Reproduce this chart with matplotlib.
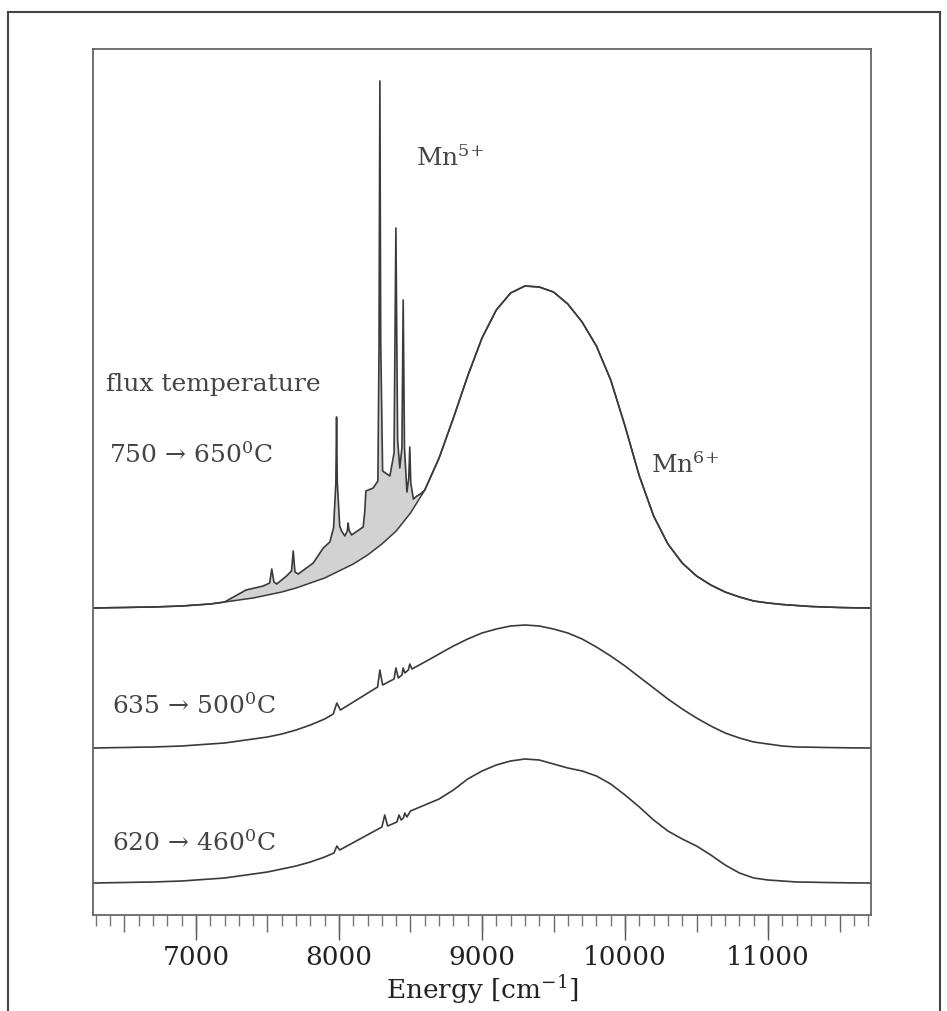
import matplotlib.pyplot as plt
from matplotlib.lines import Line2D

# energy grid (cm^-1) for the smooth Mn6+ bands, read every 100 cm^-1
band_e = [6280, 6300, 6400, 6500, 6600, 6700, 6800, 6900, 7000, 7100, 7200, 7300, 7400, 7500,
          7600, 7700, 7800, 7900, 8000, 8100, 8200, 8300, 8400, 8500, 8600, 8700, 8800,
          8900, 9000, 9100, 9200, 9300, 9400, 9500, 9600, 9700, 9800, 9900, 10000, 10100,
          10200, 10300, 10400, 10500, 10600, 10700, 10800, 10900, 11000, 11100, 11200,
          11300, 11400, 11500, 11600, 11720]

# heights above each trace's own baseline (arbitrary units)
top_band = [0, 0, 0.3, 0.5, 0.8, 1, 1.5, 2, 3, 4, 6, 8, 10, 13,
            16, 20, 25, 30, 37, 44, 53, 64, 77, 95, 118, 150, 190,
            232, 270, 298, 315, 322, 321, 316, 304, 286, 262, 228, 182, 132,
            92, 64, 45, 32, 23, 16, 11, 7, 5, 3.5, 2.5,
            1.5, 1, 0.5, 0.2, 0]
mid_band = [0, 0, 0.3, 0.5, 0.8, 1, 1.5, 2, 3, 4, 5, 7, 9, 11,
            14, 18, 23, 29, 36, 44, 53, 62, 70, 78, 86, 94, 102,
            109, 115, 119, 122, 123, 122, 119, 115, 109, 101, 92, 82, 71,
            60, 49, 39, 30, 22, 15, 10, 6, 4, 2, 1,
            0.8, 0.5, 0.3, 0.1, 0]
bot_band = [0, 0, 0.3, 0.5, 0.8, 1, 1.5, 2, 3, 4, 5, 7, 9, 11,
            14, 17, 21, 26, 32, 38, 46, 54, 62, 72, 78, 84, 93,
            104, 112, 118, 122, 124, 123, 119, 115, 112, 107, 99, 88, 76,
            63, 52, 44, 37, 28, 18, 10, 5, 3, 2, 1,
            0.8, 0.5, 0.3, 0.1, 0]

# upper trace of the top spectrum carrying the sharp Mn5+ lines (shaded part)
mn5_e = [7200, 7350, 7470, 7515, 7530, 7545, 7565, 7633, 7668, 7680, 7692, 7715, 7820,
         7890, 7936, 7962, 7978, 7983, 7988, 8005, 8018, 8041, 8058, 8064, 8070, 8088,
         8169, 8180, 8188, 8239, 8272, 8280, 8286, 8292, 8305, 8356, 8385, 8398, 8410,
         8425, 8440, 8449, 8458, 8475, 8488, 8495, 8502, 8520, 8545, 8570]
mn5_i = [6, 18, 22, 25, 39, 26, 24, 32, 37, 57, 36, 34, 45,
         60, 66, 80, 125, 191, 126, 82, 77, 72, 77, 85, 78, 73,
         81, 96, 117, 120, 127, 262, 527, 264, 137, 132, 155, 380, 168,
         140, 160, 308, 160, 116, 130, 161, 125, 109, 112, 114]

# weak Mn5+ lines on the two lower spectra
mid_lines_e = [7960, 7985, 8010, 8270, 8286, 8305, 8385, 8398, 8415, 8440, 8449, 8460, 8485, 8495, 8510]
mid_lines_i = [34, 45, 38, 61, 78, 63, 69, 80, 70, 73, 80, 75, 78, 84, 79]
bot_lines_e = [7965, 7985, 8005, 8300, 8320, 8340, 8405, 8420, 8435, 8450, 8460, 8475]
bot_lines_i = [30, 37, 33, 56, 68, 57, 61, 68, 63, 65, 70, 66]

offsets = [307, 167, 32]
labels = ['750 \u2192 650$^{0}$C', '635 \u2192 500$^{0}$C', '620 \u2192 460$^{0}$C']
label_y = [455, 706, 843]


def merged(e_band, i_band, e_lines, i_lines):
    # smooth band with the line segment spliced in where it was read
    pts = [(e, v) for e, v in zip(e_band, i_band) if e < e_lines[0] or e > e_lines[-1]]
    pts += list(zip(e_lines, i_lines))
    pts.sort()
    return [p[0] for p in pts], [p[1] for p in pts]


plt.rcParams['font.family'] = 'DejaVu Serif'
plt.rcParams['mathtext.fontset'] = 'dejavuserif'

fig = plt.figure(figsize=(9.47, 10.12), dpi=100)
ax = fig.add_axes([93 / 947, 96 / 1012, 778 / 947, 866 / 1012])

ink = '#3a3a3a'
top_x, top_y = merged(band_e, top_band, mn5_e, mn5_i)
inside = [(e, v) for e, v in zip(band_e, top_band) if mn5_e[0] <= e <= mn5_e[-1]]
poly_x = mn5_e + [p[0] for p in inside[::-1]]
poly_y = [v + offsets[0] for v in mn5_i] + [p[1] + offsets[0] for p in inside[::-1]]
ax.fill(poly_x, poly_y, color='#d2d2d2', lw=0)
ax.plot(band_e, [v + offsets[0] for v in top_band], color=ink, lw=1.1)
ax.plot(top_x, [v + offsets[0] for v in top_y], color=ink, lw=1.2)

mid_x, mid_y = merged(band_e, mid_band, mid_lines_e, mid_lines_i)
ax.plot(mid_x, [v + offsets[1] for v in mid_y], color=ink, lw=1.2)
bot_x, bot_y = merged(band_e, bot_band, bot_lines_e, bot_lines_i)
ax.plot(bot_x, [v + offsets[2] for v in bot_y], color=ink, lw=1.2)

ax.set_xlim(6280, 11720)
ax.set_ylim(0, 866)
ax.set_yticks([])
ax.set_xticks(range(6500, 11700, 500))
ax.set_xticks(range(6300, 11800, 100), minor=True)
ax.tick_params(axis='x', which='major', direction='out', length=12, width=1, color='#666666',
               labelbottom=False)
ax.tick_params(axis='x', which='minor', direction='out', length=8, width=1, color='#777777')
for s in ax.spines.values():
    s.set_color('#666666')
    s.set_linewidth(1.3)

sec = ax.secondary_xaxis('bottom')
sec.set_xticks([7000, 8000, 9000, 10000, 11000])
sec.tick_params(axis='x', direction='out', length=18, width=1, color='#555555',
                labelsize=19, pad=3, labelcolor='#222222')
sec.spines['bottom'].set_visible(False)
sec.set_xlabel('Energy [cm$^{-1}$]', fontsize=19, color='#222222', labelpad=2)

txt = dict(color='#444444', fontsize=18, va='center')
ax.text(6370, 916 - 385, 'flux temperature', **txt)
for lab, yy, x0 in zip(labels, label_y, [6390, 6410, 6410]):
    ax.text(x0, 916 - yy, lab, **txt)
ax.text(8540, 916 - 158, 'Mn$^{5\\!+}$', **txt)
ax.text(10180, 916 - 465, 'Mn$^{6\\!+}$', **txt)

# frame around the whole picture
fr = dict(color='#444444', lw=1.5)
fig.add_artist(Line2D([8 / 947, 8 / 947], [0, 1 - 13 / 1012], **fr))
fig.add_artist(Line2D([8 / 947, 940 / 947], [1 - 13 / 1012] * 2, **fr))
fig.add_artist(Line2D([940 / 947, 940 / 947], [0, 1 - 13 / 1012], **fr))

fig.savefig('out.png', dpi=100)
